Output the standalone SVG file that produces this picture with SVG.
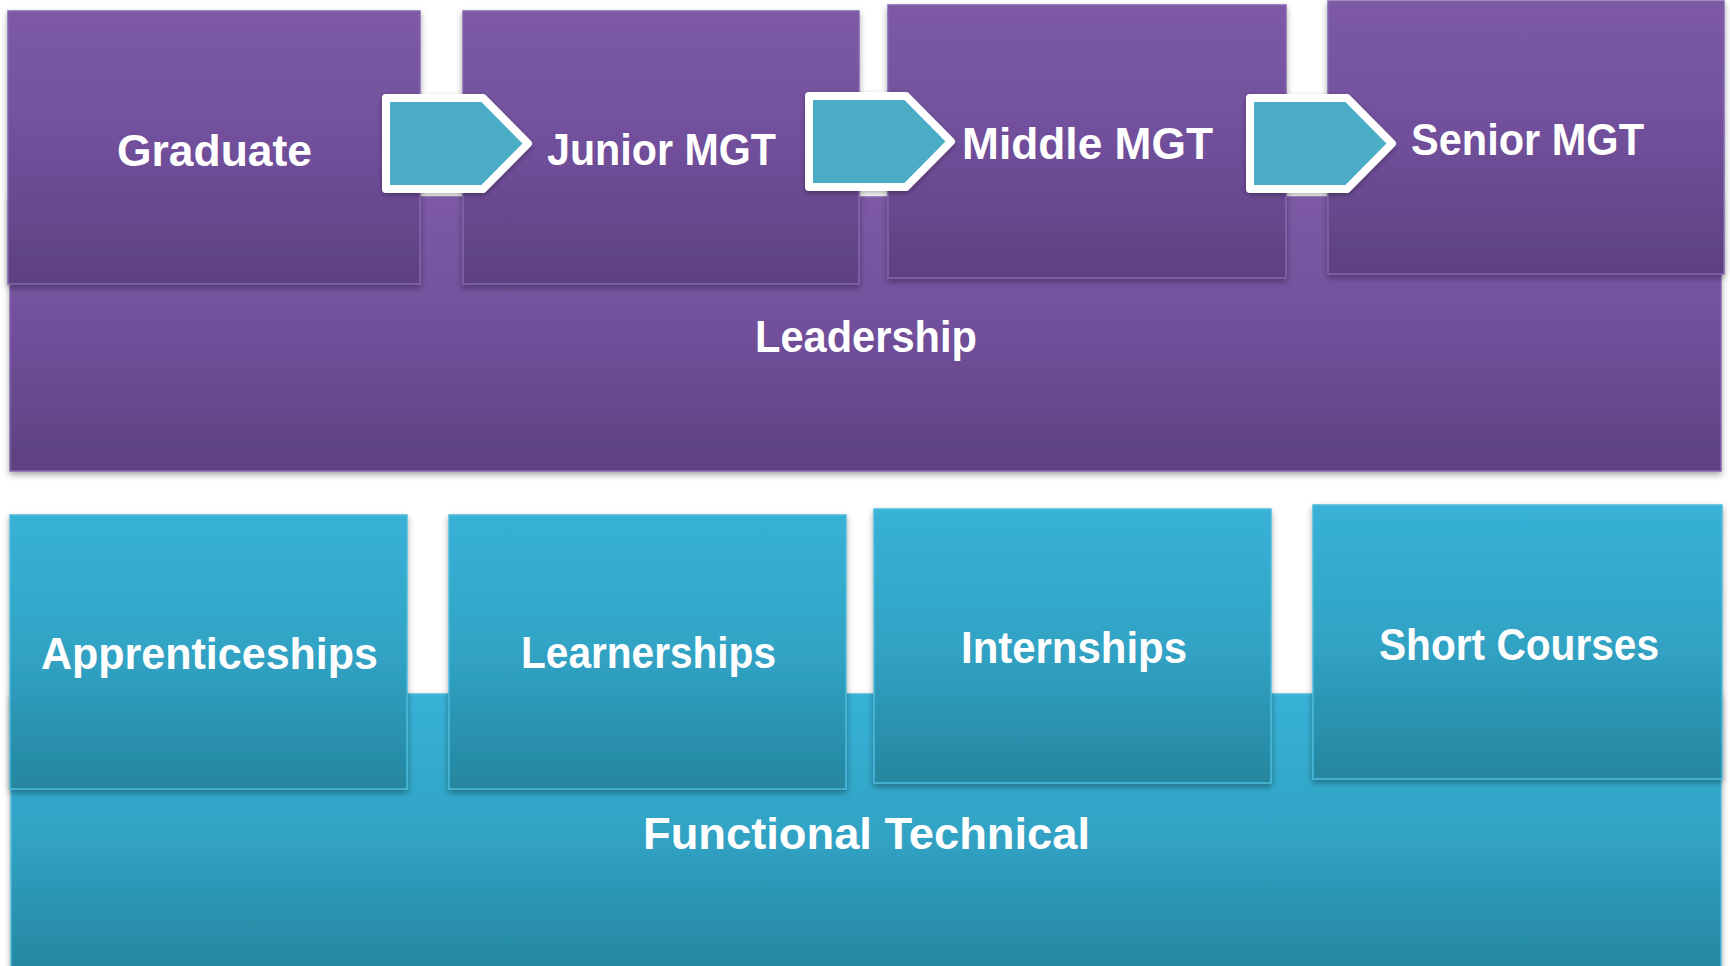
<svg xmlns="http://www.w3.org/2000/svg" width="1730" height="966" viewBox="0 0 1730 966">
<defs>
<linearGradient id="gP" x1="0" y1="0" x2="0" y2="1">
<stop offset="0" stop-color="#7C5AA6"/>
<stop offset="0.5" stop-color="#714F9B"/>
<stop offset="1" stop-color="#5D417F"/>
</linearGradient>
<linearGradient id="gT" x1="0" y1="0" x2="0" y2="1">
<stop offset="0" stop-color="#37B2D6"/>
<stop offset="0.5" stop-color="#31A3C5"/>
<stop offset="1" stop-color="#25869F"/>
</linearGradient>
<filter id="sh" x="-5%" y="-5%" width="110%" height="115%">
<feDropShadow dx="0" dy="3" stdDeviation="3" flood-color="#000" flood-opacity="0.35"/>
</filter>
<filter id="shA" x="-10%" y="-10%" width="120%" height="130%">
<feDropShadow dx="0" dy="2" stdDeviation="2.5" flood-color="#000" flood-opacity="0.3"/>
</filter>
</defs>
<style>
.p{fill:url(#gP);stroke:#8466AE;stroke-width:1.5;filter:url(#sh)}
.t{fill:url(#gT);stroke:#4DBBDB;stroke-width:1.5;filter:url(#sh)}
.lbl{font-family:"Liberation Sans","DejaVu Sans",Arial,sans-serif;font-weight:bold;font-size:44px;fill:#FFFFFF;text-anchor:middle}
.arr{fill:#4BACC6;stroke:#FFFFFF;stroke-width:8;stroke-linejoin:round;filter:url(#shA)}
</style>
<rect width="1730" height="966" fill="#FFFFFF"/>

<g id="leadership">
<rect class="p" x="10" y="197" width="1711" height="274"/>
<text class="lbl" x="866" y="352" textLength="222" lengthAdjust="spacingAndGlyphs">Leadership</text>
</g>
<g id="graduate">
<rect class="p" x="8" y="11" width="412" height="273"/>
<text class="lbl" x="214.5" y="166" textLength="195" lengthAdjust="spacingAndGlyphs">Graduate</text>
</g>
<g id="junior-mgt">
<rect class="p" x="463" y="11" width="396" height="273"/>
<text class="lbl" x="661.5" y="165" textLength="229" lengthAdjust="spacingAndGlyphs">Junior MGT</text>
</g>
<g id="middle-mgt">
<rect class="p" x="888" y="5" width="398" height="273"/>
<text class="lbl" x="1087.5" y="159" textLength="251" lengthAdjust="spacingAndGlyphs">Middle MGT</text>
</g>
<g id="senior-mgt">
<rect class="p" x="1328" y="1" width="396" height="273"/>
<text class="lbl" x="1527.5" y="155" textLength="233" lengthAdjust="spacingAndGlyphs">Senior MGT</text>
</g>

<g id="connectors">
<path class="arr" d="M386,98 H483 L528,143.5 L483,189 H386 Z"/>
<path class="arr" d="M809,96 H906 L951,141.5 L906,187 H809 Z"/>
<path class="arr" d="M1250,98 H1347 L1392,143.5 L1347,189 H1250 Z"/>
</g>

<g id="functional-technical">
<rect class="t" x="11" y="694" width="1710" height="280"/>
<text class="lbl" x="866.5" y="849" textLength="447" lengthAdjust="spacingAndGlyphs">Functional Technical</text>
</g>
<g id="apprenticeships">
<rect class="t" x="10" y="515" width="397" height="274"/>
<text class="lbl" x="209.5" y="669" textLength="337" lengthAdjust="spacingAndGlyphs">Apprenticeships</text>
</g>
<g id="learnerships">
<rect class="t" x="449" y="515" width="397" height="274"/>
<text class="lbl" x="648.5" y="668" textLength="255" lengthAdjust="spacingAndGlyphs">Learnerships</text>
</g>
<g id="internships">
<rect class="t" x="874" y="509" width="397" height="274"/>
<text class="lbl" x="1074" y="663" textLength="226" lengthAdjust="spacingAndGlyphs">Internships</text>
</g>
<g id="short-courses">
<rect class="t" x="1313" y="505" width="409" height="274"/>
<text class="lbl" x="1519" y="660" textLength="280" lengthAdjust="spacingAndGlyphs">Short Courses</text>
</g>
</svg>
